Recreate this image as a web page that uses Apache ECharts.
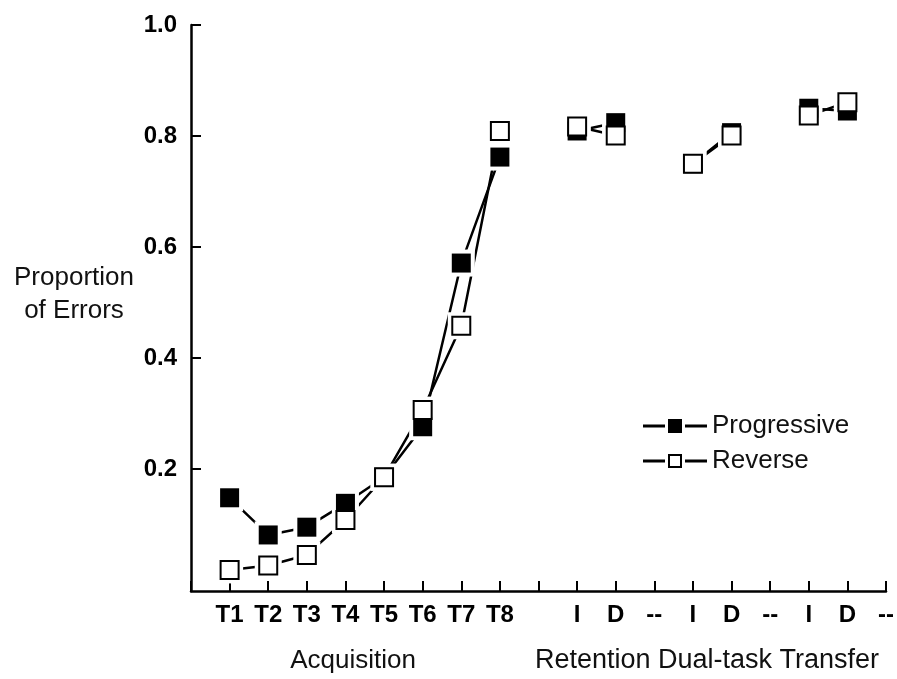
<!DOCTYPE html>
<html>
<head>
<meta charset="utf-8">
<script src="https://cdn.jsdelivr.net/npm/echarts@6/dist/echarts.min.js"></script>
<style>
  html, body { margin: 0; padding: 0; background: #fff; }
  #main { width: 897px; height: 679px; }
</style>
</head>
<body>
<div id="main"></div>
<script>
// x positions 1..18, one label per tick
const tickLabels = ['T1', 'T2', 'T3', 'T4', 'T5', 'T6', 'T7', 'T8', '',
  'I', 'D', '--', 'I', 'D', '--', 'I', 'D', '--'];

// null = break in the line (between phases)
const progressive = [0.148, 0.081, 0.095, 0.138, 0.185, 0.276, 0.571, 0.762, null,
  0.809, 0.824, null, 0.750, 0.806, null, 0.850, 0.845, null];
const reverse = [0.018, 0.026, 0.045, 0.108, 0.185, 0.306, 0.458, 0.809, null,
  0.817, 0.801, null, 0.750, 0.801, null, 0.837, 0.861, null];

const yTicks = [0.2, 0.4, 0.6, 0.8, 1.0];

const FONT = '"Liberation Sans", Arial, sans-serif';

const toLine = (vals) => vals.map((v, i) => [i + 1, v == null ? '-' : v]);
const toPoints = (vals) => vals.map((v, i) => [i + 1, v]).filter((p) => p[1] != null);

// legend icons: "—■—" and "—□—"
const iconFilled = 'path://M0 5.5L22 5.5L22 8.5L0 8.5Z M25 0L39 0L39 14L25 14Z M42 5.5L64 5.5L64 8.5L42 8.5Z';
const iconOpen = 'path://M0 5.5L22 5.5L22 8.5L0 8.5Z M25 0L39 0L39 14L25 14Z M27 2L27 12L37 12L37 2Z M42 5.5L64 5.5L64 8.5L42 8.5Z';

const chart = echarts.init(document.getElementById('main'));

const option = {
  backgroundColor: '#fff',
  animation: false,
  grid: { left: 191, right: 10, top: 25, bottom: 88, containLabel: false },
  xAxis: {
    type: 'value',
    min: 0,
    max: 18,
    interval: 1,
    splitLine: { show: false },
    axisLine: { onZero: false, lineStyle: { color: '#000', width: 2.5 } },
    axisTick: { inside: true, length: 10, lineStyle: { color: '#000', width: 2 } },
    axisLabel: {
      margin: 12,
      color: '#000',
      fontFamily: FONT,
      fontSize: 24,
      fontWeight: 'bold',
      formatter: (v) => tickLabels[v - 1] || ''
    }
  },
  yAxis: {
    type: 'value',
    min: -0.02,
    max: 1.0,
    splitLine: { show: false },
    axisLine: { show: true, onZero: false, lineStyle: { color: '#000', width: 2.5 } },
    axisTick: {
      show: true, inside: true, length: 10, customValues: yTicks,
      lineStyle: { color: '#000', width: 2 }
    },
    axisLabel: {
      customValues: yTicks,
      margin: 14,
      color: '#000',
      fontFamily: FONT,
      fontSize: 24,
      fontWeight: 'bold',
      formatter: (v) => v.toFixed(1)
    }
  },
  legend: {
    left: 643,
    top: 413,
    padding: 0,
    orient: 'vertical',
    itemWidth: 64,
    itemHeight: 14,
    itemGap: 9,
    textStyle: { fontFamily: FONT, fontSize: 26, color: '#111' },
    data: [
      { name: 'Progressive', icon: iconFilled },
      { name: 'Reverse', icon: iconOpen }
    ]
  },
  graphic: [
    {
      type: 'text', x: 74, y: 294,
      style: {
        text: 'Proportion\nof Errors', fill: '#111', font: '26px ' + FONT,
        textAlign: 'center', textVerticalAlign: 'middle', lineHeight: 33
      }
    },
    {
      type: 'text', x: 353, y: 661,
      style: { text: 'Acquisition', fill: '#111', font: '26px ' + FONT, textAlign: 'center', textVerticalAlign: 'middle' }
    },
    {
      type: 'text', x: 707, y: 661,
      style: { text: 'Retention Dual-task Transfer', fill: '#111', font: '27px ' + FONT, textAlign: 'center', textVerticalAlign: 'middle' }
    }
  ],
  series: [
    {
      name: 'Progressive', type: 'line', z: 1, symbol: 'none', silent: true,
      color: '#000',
      lineStyle: { color: '#000', width: 2.5 },
      data: toLine(progressive)
    },
    {
      name: 'Reverse', type: 'line', z: 1, symbol: 'none', silent: true,
      color: '#000',
      lineStyle: { color: '#000', width: 2.5 },
      data: toLine(reverse)
    },
    {
      // white halo so lines stop short of markers
      name: 'halo', type: 'scatter', z: 2, silent: true,
      symbol: 'rect', symbolSize: 27,
      itemStyle: { color: '#fff', opacity: 1 },
      data: toPoints(progressive).concat(toPoints(reverse))
    },
    {
      name: 'Progressive', type: 'scatter', z: 3, silent: true,
      symbol: 'rect', symbolSize: 19,
      itemStyle: { color: '#000', opacity: 1 },
      data: toPoints(progressive)
    },
    {
      name: 'Reverse', type: 'scatter', z: 4, silent: true,
      symbol: 'rect', symbolSize: 18,
      itemStyle: { color: '#fff', borderColor: '#000', borderWidth: 2, opacity: 1 },
      data: toPoints(reverse)
    }
  ]
};

chart.setOption(option);
</script>
</body>
</html>
